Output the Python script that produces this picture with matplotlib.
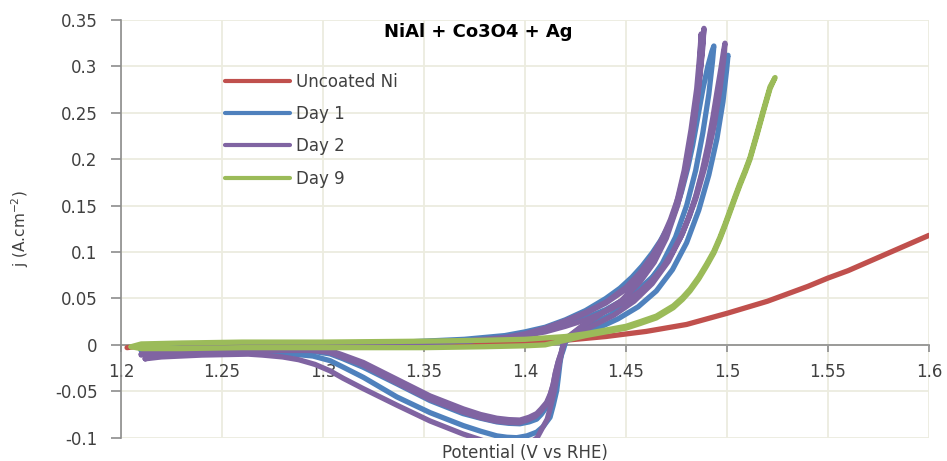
import matplotlib
matplotlib.use("Agg")
import matplotlib.pyplot as plt
from matplotlib.lines import Line2D

# ---------------- data ----------------
series_names = ["Uncoated Ni", "Day 1", "Day 2", "Day 9"]
series_colors = ["#C0504D", "#4F81BD", "#8064A2", "#9BBB59"]

x_ticks = [1.2, 1.25, 1.3, 1.35, 1.4, 1.45, 1.5, 1.55, 1.6]
x_tick_labels = ["1.2", "1.25", "1.3", "1.35", "1.4", "1.45", "1.5", "1.55", "1.6"]
y_ticks = [-0.1, -0.05, 0, 0.05, 0.1, 0.15, 0.2, 0.25, 0.3, 0.35]
y_tick_labels = ["-0.1", "-0.05", "0", "0.05", "0.1", "0.15", "0.2", "0.25", "0.3", "0.35"]

# Uncoated Ni
red_v = [1.203, 1.21, 1.23, 1.26, 1.30, 1.34, 1.38, 1.40, 1.42, 1.44, 1.46, 1.48,
         1.50, 1.52, 1.54, 1.55, 1.56, 1.58, 1.60]
red_j = [-0.003, -0.001, 0.000, 0.0005, 0.001, 0.0015, 0.002, 0.003, 0.005, 0.009,
         0.0145, 0.022, 0.034, 0.047, 0.063, 0.072, 0.080, 0.099, 0.118]

# Day 9 (forward + return)
green_fv = [1.205, 1.21, 1.23, 1.26, 1.30, 1.35, 1.38, 1.40, 1.42, 1.43, 1.44, 1.45,
            1.457, 1.465, 1.4734, 1.478, 1.4817, 1.486, 1.4899, 1.4935, 1.4965, 1.499,
            1.5015, 1.504, 1.5064, 1.509, 1.5114, 1.5147, 1.518, 1.5213, 1.5238]
green_fj = [-0.002, 0.001, 0.002, 0.003, 0.003, 0.004, 0.005, 0.006, 0.009, 0.012,
            0.016, 0.020, 0.025, 0.031, 0.042, 0.051, 0.060, 0.073, 0.087, 0.101,
            0.116, 0.130, 0.145, 0.160, 0.174, 0.188, 0.202, 0.227, 0.253, 0.278, 0.288]
green_rv = [1.5238, 1.5213, 1.518, 1.5147, 1.5114, 1.509, 1.5064, 1.504, 1.5015, 1.499,
            1.4965, 1.4935, 1.4899, 1.486, 1.4817, 1.478, 1.4734, 1.465, 1.457, 1.45,
            1.44, 1.43, 1.42, 1.41, 1.40, 1.38, 1.35, 1.30, 1.26, 1.23, 1.21, 1.205]
green_rj = [0.288, 0.276, 0.251, 0.225, 0.200, 0.186, 0.172, 0.158, 0.143, 0.128,
            0.114, 0.099, 0.085, 0.071, 0.058, 0.049, 0.040, 0.029, 0.023, 0.018,
            0.014, 0.010, 0.005, 0.000, -0.001, -0.002, -0.003, -0.003, -0.003,
            -0.004, -0.004, -0.002]

# Day 1, cycle A
blueA_fv = [1.21, 1.23, 1.26, 1.30, 1.34, 1.37, 1.39, 1.40, 1.41, 1.42, 1.43, 1.44,
            1.447, 1.453, 1.458, 1.463, 1.467, 1.471, 1.4745, 1.4775, 1.4805, 1.483,
            1.4855, 1.488, 1.4905, 1.4925, 1.4935]
blueA_fj = [-0.004, -0.001, 0.001, 0.002, 0.003, 0.006, 0.010, 0.014, 0.019, 0.027,
            0.037, 0.050, 0.061, 0.073, 0.085, 0.099, 0.112, 0.128, 0.145, 0.165,
            0.190, 0.215, 0.245, 0.275, 0.300, 0.316, 0.322]
blueA_rv = [1.4935, 1.4928, 1.491, 1.488, 1.4845, 1.480, 1.4745, 1.468, 1.461, 1.452,
            1.442, 1.432, 1.425, 1.4205, 1.419, 1.4166, 1.4152, 1.414, 1.4125, 1.4107,
            1.408, 1.4058, 1.402, 1.3975, 1.392, 1.3861, 1.378, 1.3693, 1.353, 1.3366,
            1.3198, 1.31, 1.3035, 1.295, 1.28, 1.25, 1.22, 1.21]
blueA_rj = [0.322, 0.305, 0.270, 0.228, 0.188, 0.150, 0.116, 0.088, 0.066, 0.047,
            0.032, 0.021, 0.013, 0.006, -0.005, -0.020, -0.034, -0.046, -0.057, -0.067,
            -0.075, -0.080, -0.083, -0.085, -0.0845, -0.083, -0.079, -0.074, -0.060,
            -0.042, -0.024, -0.015, -0.0097, -0.007, -0.006, -0.005, -0.005, -0.004]

# Day 1, cycle B
blueB_fv = [1.21, 1.23, 1.26, 1.30, 1.34, 1.37, 1.39, 1.40, 1.41, 1.42, 1.43, 1.44,
            1.45, 1.457, 1.463, 1.468, 1.473, 1.4775, 1.4815, 1.485, 1.488, 1.4912,
            1.494, 1.4962, 1.498, 1.4995, 1.5005]
blueB_fj = [-0.006, -0.002, 0.000, 0.001, 0.002, 0.004, 0.008, 0.011, 0.015, 0.021,
            0.029, 0.038, 0.050, 0.061, 0.073, 0.086, 0.101, 0.118, 0.139, 0.163,
            0.188, 0.215, 0.243, 0.270, 0.292, 0.306, 0.312]
blueB_rv = [1.5005, 1.4998, 1.498, 1.495, 1.491, 1.486, 1.480, 1.473, 1.465, 1.456,
            1.446, 1.436, 1.428, 1.4222, 1.419, 1.4173, 1.4165, 1.4157, 1.414, 1.4124,
            1.409, 1.4058, 1.401, 1.3959, 1.391, 1.386, 1.378, 1.3695, 1.353, 1.3365,
            1.32, 1.31, 1.3035, 1.295, 1.28, 1.25, 1.23, 1.21]
blueB_rj = [0.312, 0.296, 0.262, 0.222, 0.183, 0.145, 0.110, 0.081, 0.058, 0.041,
            0.028, 0.018, 0.011, 0.006, 0.004, -0.020, -0.035, -0.049, -0.065, -0.078,
            -0.088, -0.094, -0.098, -0.100, -0.0995, -0.098, -0.093, -0.087, -0.073,
            -0.056, -0.035, -0.024, -0.017, -0.012, -0.009, -0.008, -0.007, -0.006]

# Day 2, cycle 1
purp1_fv = [1.212, 1.22, 1.24, 1.27, 1.30, 1.34, 1.37, 1.39, 1.40, 1.41, 1.42, 1.43,
            1.44, 1.45, 1.457, 1.463, 1.468, 1.472, 1.476, 1.4795, 1.4825, 1.4852,
            1.4872, 1.4886]
purp1_fj = [-0.015, -0.007, -0.002, 0.000, 0.001, 0.002, 0.004, 0.008, 0.012, 0.018,
            0.026, 0.035, 0.046, 0.062, 0.078, 0.096, 0.115, 0.135, 0.160, 0.190,
            0.225, 0.265, 0.305, 0.341]
purp1_rv = [1.4886, 1.4880, 1.4862, 1.4835, 1.480, 1.4755, 1.470, 1.464, 1.457, 1.448,
            1.438, 1.428, 1.4215, 1.4195, 1.418, 1.4166, 1.415, 1.414, 1.4125, 1.4107,
            1.408, 1.4058, 1.402, 1.3975, 1.392, 1.386, 1.378, 1.3695, 1.353, 1.3365,
            1.32, 1.31, 1.3035, 1.295, 1.285, 1.25, 1.22, 1.21]
purp1_rj = [0.341, 0.320, 0.280, 0.235, 0.190, 0.150, 0.115, 0.089, 0.068, 0.048,
            0.034, 0.020, 0.009, 0.003, -0.008, -0.017, -0.030, -0.042, -0.053, -0.062,
            -0.069, -0.074, -0.078, -0.081, -0.0805, -0.079, -0.075, -0.069, -0.055,
            -0.037, -0.019, -0.011, -0.006, -0.005, -0.004, -0.006, -0.008, -0.010]

# Day 2, cycle 2
purp2_fv = [1.21, 1.22, 1.24, 1.27, 1.30, 1.34, 1.37, 1.39, 1.40, 1.41, 1.42, 1.43,
            1.44, 1.45, 1.4575, 1.4635, 1.4685, 1.4725, 1.4765, 1.48, 1.483, 1.4857,
            1.4868, 1.4872]
purp2_fj = [-0.010, -0.005, -0.001, 0.001, 0.001, 0.002, 0.004, 0.007, 0.011, 0.017,
            0.025, 0.034, 0.045, 0.060, 0.076, 0.094, 0.113, 0.133, 0.158, 0.190,
            0.228, 0.275, 0.315, 0.335]
purp2_rv = [1.4872, 1.4866, 1.485, 1.4822, 1.4788, 1.4745, 1.469, 1.4632, 1.4562, 1.4475,
            1.4375, 1.4278, 1.4218, 1.4192, 1.4178, 1.4163, 1.4148, 1.4137, 1.4122,
            1.4103, 1.4076, 1.4052, 1.4012, 1.3968, 1.3912, 1.3852, 1.3772, 1.3688,
            1.3522, 1.3358, 1.3192, 1.3092, 1.3028, 1.294, 1.28, 1.25, 1.22, 1.21]
purp2_rj = [0.335, 0.315, 0.276, 0.232, 0.188, 0.148, 0.114, 0.088, 0.067, 0.047,
            0.033, 0.019, 0.009, 0.002, -0.009, -0.019, -0.033, -0.045, -0.056, -0.065,
            -0.072, -0.077, -0.081, -0.084, -0.0835, -0.082, -0.078, -0.072, -0.058,
            -0.040, -0.021, -0.013, -0.008, -0.006, -0.006, -0.007, -0.009, -0.011]

# Day 2, cycle 3
purp3_fv = [1.212, 1.22, 1.24, 1.27, 1.30, 1.34, 1.37, 1.39, 1.40, 1.41, 1.42, 1.43,
            1.44, 1.45, 1.457, 1.463, 1.468, 1.4725, 1.477, 1.481, 1.4845, 1.4875,
            1.4905, 1.493, 1.495, 1.497, 1.4982, 1.499]
purp3_fj = [-0.015, -0.008, -0.002, 0.000, 0.001, 0.002, 0.004, 0.007, 0.010, 0.014,
            0.020, 0.027, 0.036, 0.047, 0.058, 0.070, 0.083, 0.098, 0.116, 0.137,
            0.160, 0.185, 0.215, 0.245, 0.272, 0.298, 0.315, 0.325]
purp3_rv = [1.499, 1.4985, 1.4965, 1.4935, 1.4895, 1.4845, 1.478, 1.471, 1.463, 1.454,
            1.444, 1.434, 1.426, 1.421, 1.419, 1.417, 1.4145, 1.4125, 1.411, 1.408,
            1.406, 1.403, 1.40, 1.395, 1.39, 1.384, 1.3777, 1.3693, 1.353, 1.3366,
            1.3198, 1.31, 1.3035, 1.296, 1.288, 1.28, 1.27, 1.263, 1.24, 1.22, 1.212]
purp3_rj = [0.325, 0.310, 0.275, 0.235, 0.195, 0.157, 0.120, 0.090, 0.066, 0.047,
            0.032, 0.021, 0.012, 0.006, 0.001, -0.020, -0.050, -0.068, -0.080, -0.092,
            -0.100, -0.105, -0.108, -0.110, -0.110, -0.107, -0.102, -0.096, -0.082,
            -0.065, -0.047, -0.036, -0.028, -0.021, -0.016, -0.013, -0.011, -0.010,
            -0.011, -0.013, -0.015]

# ---------------- figure ----------------
fig = plt.figure(figsize=(9.47, 4.61), dpi=100)
ax = fig.add_axes([121 / 947, 1 - 437.7 / 461, (929 - 121) / 947, (437.7 - 20) / 461])

lw = 3.8
kw = dict(lw=lw, solid_capstyle="round", solid_joinstyle="round", zorder=3,
          clip_on=True)

c_red, c_blue, c_purp, c_green = series_colors

ax.plot(red_v, red_j, color=c_red, **kw)
ax.plot(blueA_fv + blueA_rv, blueA_fj + blueA_rj, color=c_blue, **kw)
ax.plot(blueB_fv + blueB_rv, blueB_fj + blueB_rj, color=c_blue, **kw)
ax.plot(purp1_fv + purp1_rv, purp1_fj + purp1_rj, color=c_purp, **kw)
ax.plot(purp2_fv + purp2_rv, purp2_fj + purp2_rj, color=c_purp, **kw)
ax.plot(purp3_fv + purp3_rv, purp3_fj + purp3_rj, color=c_purp, **kw)
ax.plot(green_fv + green_rv, green_fj + green_rj, color=c_green, **kw)

ax.set_xlim(1.2, 1.6)
ax.set_ylim(-0.1, 0.35)
ax.set_xticks(x_ticks)
ax.set_xticklabels(x_tick_labels)
ax.set_yticks(y_ticks)
ax.set_yticklabels(y_tick_labels)

grid_color = "#ECECDF"
ax.grid(True, color=grid_color, lw=1.3, zorder=0)
ax.set_axisbelow(True)

for s in ["top", "right"]:
    ax.spines[s].set_visible(False)
ax.spines["bottom"].set_position(("data", 0))
axis_gray = "#8C8C8C"
ax.spines["bottom"].set_color(axis_gray)
ax.spines["left"].set_color(axis_gray)
ax.spines["bottom"].set_linewidth(1.2)
ax.spines["left"].set_linewidth(1.2)
ax.spines["bottom"].set_zorder(2.5)

text_color = "#404040"
ax.tick_params(axis="x", direction="out", length=5, width=1.2, color=axis_gray,
               pad=8, labelsize=12, labelcolor=text_color)
ax.tick_params(axis="y", direction="out", length=7, width=1.2, color=axis_gray,
               pad=10, labelsize=12, labelcolor=text_color)

ax.set_title("NiAl + Co3O4 + Ag", fontsize=13, fontweight="bold", color="black",
             x=(478 - 121) / 808, y=0.952, va="center")

fig.text(525 / 947, 1 - 452.5 / 461, "Potential (V vs RHE)", ha="center", va="center",
         fontsize=12, color=text_color)
fig.text(20 / 947, 1 - 229 / 461, "j (A.cm$^{-2}$)", ha="center", va="center",
         rotation=90, fontsize=11, color=text_color)

handles = [Line2D([0], [0], color=c, lw=3.0, solid_capstyle="round") for c in series_colors]
leg = ax.legend(handles, series_names, loc="upper left",
                bbox_to_anchor=((218 - 121) / 808, (437.7 - 66) / 417.7),
                frameon=False, fontsize=12, handlelength=3.9, handletextpad=0.35,
                labelspacing=0.86, borderaxespad=0)
for t in leg.get_texts():
    t.set_color(text_color)

fig.savefig("out.png", dpi=100)
